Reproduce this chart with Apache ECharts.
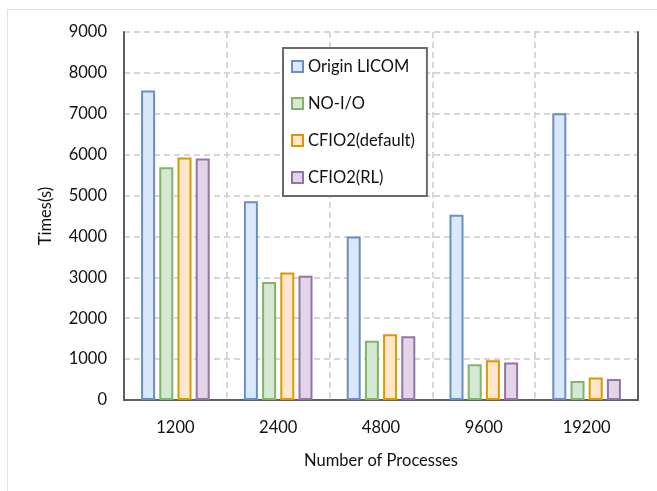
<!DOCTYPE html>
<html>
<head>
<meta charset="utf-8">
<script src="https://cdn.jsdelivr.net/npm/echarts@6/dist/echarts.min.js"></script>
<style>html,body{margin:0;padding:0;background:#fff}#c{width:657px;height:491px}</style>
</head>
<body>
<div id="c"></div>
<script>
const categories = ['1200', '2400', '4800', '9600', '19200'];
const originLicom = [7570, 4860, 4000, 4530, 7010];
const noIO = [5690, 2885, 1450, 875, 465];
const cfio2Default = [5930, 3120, 1610, 970, 550];
const cfio2RL = [5905, 3040, 1560, 920, 515];
const yTicks = [0, 9000, 1000];

const seriesDefs = [
  ['Origin LICOM', originLicom, '#dae8fc', '#6c8ebf'],
  ['NO-I/O', noIO, '#d5e8d4', '#82b366'],
  ['CFIO2(default)', cfio2Default, '#ffe6cc', '#d79b00'],
  ['CFIO2(RL)', cfio2RL, '#e1d5e7', '#9673a6']
];
const font = 'Lato, "Open Sans", sans-serif';
const borderLine = {show: true, lineStyle: {color: '#5f5f5f', width: 2}};
const chart = echarts.init(document.getElementById('c'), null, {renderer: 'canvas'});
chart.setOption({
  animation: false,
  textStyle: {fontFamily: font},
  grid: {left: 124, top: 32, width: 514, height: 368, show: false},
  graphic: [
    {type: 'line', shape: {x1: 7, y1: 9.5, x2: 657, y2: 9.5}, style: {stroke: '#e2e2e2', lineWidth: 1}, silent: true},
    {type: 'line', shape: {x1: 7.5, y1: 9, x2: 7.5, y2: 491}, style: {stroke: '#e2e2e2', lineWidth: 1}, silent: true}
  ],
  legend: {
    orient: 'vertical', left: 283, top: 48,
    backgroundColor: '#fff', borderColor: '#6a6a6a', borderWidth: 2, borderRadius: 0,
    padding: [10, 12, 10, 8], itemGap: 20, itemWidth: 11, itemHeight: 11,
    icon: 'rect',
    textStyle: {fontSize: 16.5, color: '#111', fontFamily: font},
    data: seriesDefs.map(d => d[0])
  },
  xAxis: [{
    type: 'category', data: categories,
    name: 'Number of Processes', nameLocation: 'middle', nameGap: 52,
    nameTextStyle: {fontSize: 16.5, color: '#111'},
    axisLine: borderLine,
    axisTick: {show: false},
    axisLabel: {fontSize: 16.5, color: '#111', margin: 19},
    splitLine: {show: true, lineStyle: {type: [6, 4], color: '#d6d6d6', width: 2}}
  }, {
    type: 'category', data: categories, position: 'top',
    axisLine: borderLine, axisTick: {show: false}, axisLabel: {show: false}, splitLine: {show: false}
  }],
  yAxis: [{
    type: 'value', min: yTicks[0], max: yTicks[1], interval: yTicks[2],
    name: 'Times(s)', nameLocation: 'middle', nameGap: 70, nameRotate: 90,
    nameTextStyle: {fontSize: 16.5, color: '#111'},
    axisLine: borderLine,
    axisTick: {show: false},
    axisLabel: {fontSize: 16.5, color: '#111', margin: 17, formatter: v => String(v)},
    splitLine: {show: true, lineStyle: {type: [6, 4], color: '#d6d6d6', width: 2}}
  }, {
    type: 'value', min: yTicks[0], max: yTicks[1], interval: yTicks[2], position: 'right',
    axisLine: borderLine, axisTick: {show: false}, axisLabel: {show: false}, splitLine: {show: false}
  }],
  series: seriesDefs.map(d => ({
    name: d[0], type: 'bar', data: d[1],
    barWidth: 14, barGap: '30%',
    itemStyle: {color: d[2], borderColor: d[3], borderWidth: 2}
  }))
});
</script>
</body>
</html>
